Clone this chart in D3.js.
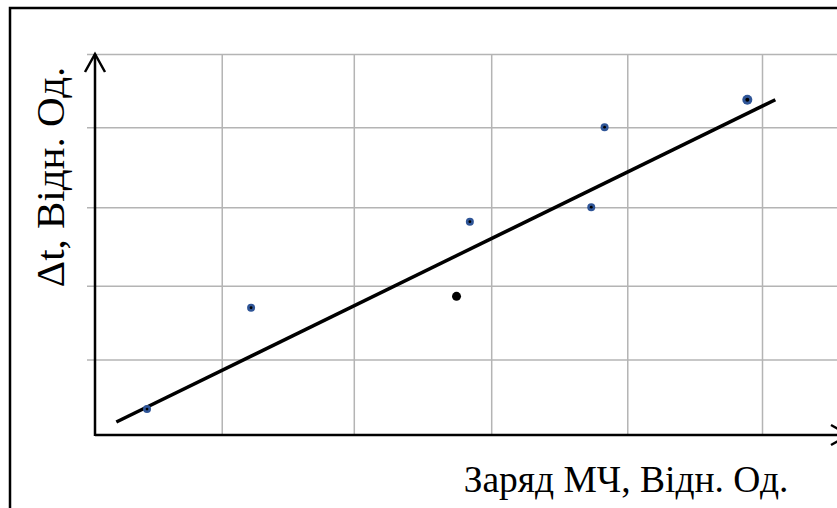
<!DOCTYPE html>
<html>
<head>
<meta charset="utf-8">
<script src="https://cdn.jsdelivr.net/npm/d3@7"></script>
<style>
  body { margin: 0; background: #fff; }
  svg { display: block; }
</style>
</head>
<body>
<svg id="chart" width="837" height="508"></svg>
<script>
// Data
// ----
// measured points (relative units)
const xValues = [0.39, 1.17, 2.71, 2.81, 3.72, 3.82, 4.89];
const yValues = [0.34, 1.67, 1.82, 2.80, 2.99, 4.04, 4.40];
const pointKind = ['exp', 'exp', 'ref', 'exp', 'exp', 'exp', 'exp'];

// trend line ends
const trendX = [0.16, 5.10];
const trendY = [0.17, 4.40];

// grid positions (no tick labels on this chart)
const xGrid = [0.95, 1.94, 2.97, 3.99, 5.0];
const yGrid = [0.99, 1.96, 2.99, 4.04, 5.0];

const xTitle = 'Заряд МЧ, Відн. Од.';
const yTitle = 'Δt, Відн. Од.';

// Layout
// ------
const svg = d3.select('#chart');
const W = 837, H = 508;
const left = 95, bottom = 435;

const x = d3.scaleLinear().domain([0, 5]).range([left, 762]);
const y = d3.scaleLinear().domain([0, 5]).range([bottom, 54]);

// outer frame (runs off the right and bottom edge)
svg.append('rect')
    .attr('x', 10).attr('y', 8)
    .attr('width', W).attr('height', H)
    .attr('fill', 'none')
    .attr('stroke', '#000')
    .attr('stroke-width', 2.5);

// gridlines
svg.append('g')
    .attr('transform', `translate(0,${bottom})`)
    .call(d3.axisBottom(x).tickValues(xGrid).tickSize(-(bottom - y(5))).tickFormat(''))
    .call(g => g.select('.domain').remove())
    .call(g => g.selectAll('line').attr('stroke', '#b4b4b4').attr('stroke-width', 1.5));

svg.append('g')
    .attr('transform', `translate(${left - 8},0)`)
    .call(d3.axisRight(y).tickValues(yGrid).tickSize(W - left + 8).tickFormat(''))
    .call(g => g.select('.domain').remove())
    .call(g => g.selectAll('line').attr('stroke', '#b4b4b4').attr('stroke-width', 1.5));

// axes with open arrowheads
const axisG = svg.append('g')
    .attr('fill', 'none')
    .attr('stroke', '#000')
    .attr('stroke-width', 2.5)
    .attr('stroke-linejoin', 'miter');

axisG.append('line')
    .attr('x1', left).attr('y1', bottom + 1)
    .attr('x2', left).attr('y2', y(5));
axisG.append('path')
    .attr('d', `M${left - 10},${y(5) + 18}L${left},${y(5)}L${left + 10},${y(5) + 18}`);

axisG.append('line')
    .attr('x1', left).attr('y1', bottom)
    .attr('x2', 849).attr('y2', bottom);
axisG.append('path')
    .attr('d', `M831,${bottom - 10}L849,${bottom}L831,${bottom + 10}`);

// trend line
svg.append('line')
    .attr('x1', x(trendX[0])).attr('y1', y(trendY[0]))
    .attr('x2', x(trendX[1])).attr('y2', y(trendY[1]))
    .attr('stroke', '#000')
    .attr('stroke-width', 3.5);

// points
const pts = xValues.map((v, i) => ({ x: v, y: yValues[i], kind: pointKind[i], i }));
const last = xValues.length - 1;

const dots = svg.append('g').selectAll('g')
    .data(pts)
    .join('g')
    .attr('transform', d => `translate(${x(d.x)},${y(d.y)})`);

dots.append('circle')
    .attr('r', d => d.kind === 'ref' ? 4.5 : (d.i === last ? 5 : 4))
    .attr('fill', d => d.kind === 'ref' ? '#000' : '#2f5597');

dots.filter(d => d.kind !== 'ref')
    .append('circle')
    .attr('r', d => d.i === last ? 2 : 1.4)
    .attr('fill', '#000');

// titles
svg.append('text')
    .attr('x', 626).attr('y', 492)
    .attr('text-anchor', 'middle')
    .attr('font-family', '"Liberation Serif", "Times New Roman", serif')
    .attr('font-size', 37.5)
    .attr('fill', '#000')
    .text(xTitle);

svg.append('text')
    .attr('transform', 'translate(64,177) rotate(-90)')
    .attr('text-anchor', 'middle')
    .attr('font-family', '"Liberation Serif", "Times New Roman", serif')
    .attr('font-size', 41)
    .attr('fill', '#000')
    .text(yTitle);
</script>
</body>
</html>
